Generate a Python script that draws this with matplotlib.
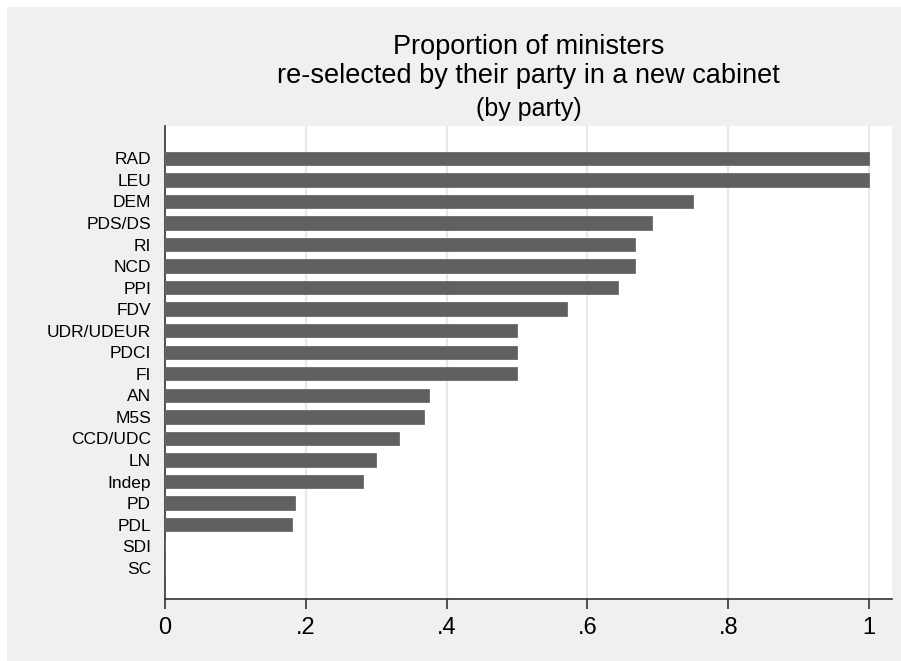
import matplotlib
matplotlib.use("Agg")
import matplotlib.pyplot as plt
from matplotlib.patches import Rectangle

parties = ["RAD", "LEU", "DEM", "PDS/DS", "RI", "NCD", "PPI", "FDV", "UDR/UDEUR",
           "PDCI", "FI", "AN", "M5S", "CCD/UDC", "LN", "Indep", "PD", "PDL", "SDI", "SC"]
values = [1.0, 1.0, 0.75, 0.692, 0.667, 0.667, 0.643, 0.571, 0.5,
          0.5, 0.5, 0.375, 0.368, 0.333, 0.30, 0.281, 0.184, 0.181, 0.0, 0.0]
xticks = [0, 0.2, 0.4, 0.6, 0.8, 1.0]
xticklabels = ["0", ".2", ".4", ".6", ".8", "1"]

plt.rcParams['font.family'] = ['Liberation Sans', 'DejaVu Sans']

W, H = 901, 661
fig = plt.figure(figsize=(W / 100, H / 100), dpi=100, facecolor="white")
fig.patches.append(Rectangle((7 / W, 0), 1 - 7 / W, 1 - 7 / H, transform=fig.transFigure,
                             facecolor="#F0F0F0", edgecolor="none", zorder=-10))

ax = fig.add_axes([165 / W, 1 - 599 / H, (892 - 165) / W, (599 - 126) / H])
ax.set_facecolor("white")

ypos = list(range(len(parties)))
ax.barh(ypos, values, height=0.62, color="#606060", edgecolor="#6a6a6a", linewidth=0.6, zorder=3)

ax.set_xlim(0, (892 - 165) / 704)
ax.set_ylim(20.45, -1.5)

ax.set_yticks(ypos)
ax.set_yticklabels(parties, fontsize=12.5)
ax.tick_params(axis="y", length=0, pad=10, colors="black")

ax.set_xticks(xticks)
ax.set_xticklabels(xticklabels, fontsize=17)
ax.tick_params(axis="x", length=7, width=1.2, color="#333333", pad=6, labelcolor="black")

for x in xticks[1:]:
    ax.axvline(x, color="#E8E8E8", linewidth=1.6, zorder=1)

for s in ["top", "right"]:
    ax.spines[s].set_visible(False)
for s in ["left", "bottom"]:
    ax.spines[s].set_color("#333333")
    ax.spines[s].set_linewidth(1.2)

cx = (165 + 892) / 2 / W
fig.text(cx, 1 - 47 / H, "Proportion of ministers", ha="center", va="center", fontsize=19.5)
fig.text(cx, 1 - 76 / H, "re-selected by their party in a new cabinet", ha="center", va="center", fontsize=19.5)
fig.text(cx, 1 - 109 / H, "(by party)", ha="center", va="center", fontsize=18)

fig.savefig("out.png", dpi=100, facecolor=fig.get_facecolor())
